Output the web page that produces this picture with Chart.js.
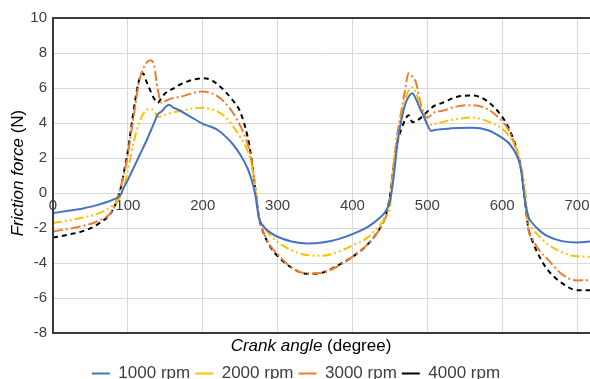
<!DOCTYPE html>
<html>
<head>
<meta charset="utf-8">
<script src="https://cdn.jsdelivr.net/npm/chart.js@4.4.1/dist/chart.umd.min.js"></script>
<style>
  html, body { margin: 0; padding: 0; background: #ffffff; overflow: hidden; }
  #wrap { width: 603px; height: 379px; position: relative; }
</style>
</head>
<body>
<div id="wrap"><canvas id="chart"></canvas></div>
<script>
// Crank angle samples (degree) shared by all speed series
const crankAngle = [0, 20, 40, 60, 80, 90, 95, 100, 105, 110, 115, 120, 125, 130, 135, 140, 145, 150, 155, 160,
  170, 180, 190, 200, 210, 220, 230, 240, 250, 260, 265, 270, 275, 280, 290, 300, 320, 340, 360, 380,
  400, 420, 430, 440, 445, 450, 455, 460, 465, 470, 475, 480, 485, 490, 495, 500, 505, 510, 520, 540,
  560, 580, 600, 610, 620, 625, 630, 635, 640, 650, 660, 680, 700, 720];

// Friction force (N) per engine speed
const rpm1000 = [-1.15, -1.02, -0.88, -0.68, -0.38, -0.12, 0.35, 0.75, 1.2, 1.65, 2.1, 2.55, 3.0, 3.5, 4.0, 4.5, 4.65, 4.9, 5.05, 4.9,
  4.7, 4.45, 4.2, 3.95, 3.8, 3.6, 3.25, 2.8, 2.2, 1.4, 0.8, -0.05, -1.4, -1.85, -2.25, -2.5, -2.78, -2.88, -2.83, -2.65,
  -2.35, -1.95, -1.65, -1.28, -1.0, -0.5, 0.9, 2.8, 4.1, 5.0, 5.5, 5.7, 5.35, 4.85, 4.4, 3.9, 3.55, 3.6, 3.65, 3.72,
  3.73, 3.6, 3.15, 2.8, 2.1, 1.4, -0.3, -1.35, -1.7, -2.15, -2.45, -2.75, -2.83, -2.76];

const rpm2000 = [-1.72, -1.58, -1.4, -1.18, -0.7, -0.2, 0.4, 1.3, 2.35, 3.3, 4.0, 4.5, 4.75, 4.8, 4.7, 4.35, 4.4, 4.48, 4.55, 4.6,
  4.68, 4.78, 4.85, 4.87, 4.8, 4.65, 4.35, 3.85, 3.2, 2.4, 1.65, 0.3, -1.4, -1.8, -2.4, -2.8, -3.3, -3.55, -3.58, -3.38,
  -3.0, -2.55, -2.15, -1.65, -1.35, -0.85, 1.7, 3.1, 4.3, 5.3, 5.85, 6.05, 5.7, 5.1, 4.5, 3.95, 3.88, 3.95, 4.05, 4.23,
  4.32, 4.1, 3.68, 3.2, 2.4, 1.6, 0.4, -1.6, -2.0, -2.5, -2.9, -3.38, -3.62, -3.64];

const rpm3000 = [-2.2, -2.05, -1.88, -1.6, -0.95, 0.3, 1.1, 2.2, 3.6, 5.0, 6.4, 7.05, 7.45, 7.58, 7.3, 5.9, 5.15, 5.25, 5.35, 5.42,
  5.5, 5.62, 5.74, 5.8, 5.72, 5.52, 5.15, 4.6, 3.85, 2.8, 1.9, 0.4, -1.3, -2.1, -3.0, -3.5, -4.3, -4.6, -4.55, -4.2,
  -3.65, -2.95, -2.45, -1.8, -1.3, -0.3, 1.6, 3.4, 4.6, 5.8, 6.85, 6.65, 6.3, 5.3, 4.6, 4.3, 4.45, 4.62, 4.7, 4.95,
  5.02, 4.8, 4.1, 3.5, 2.3, 1.4, -0.1, -2.1, -2.6, -3.3, -3.75, -4.65, -5.0, -4.97];

const rpm4000 = [-2.55, -2.38, -2.18, -1.78, -0.95, 0.2, 1.25, 2.4, 3.9, 5.35, 6.45, 6.85, 6.35, 5.85, 5.4, 5.15, 5.45, 5.7, 5.85, 5.95,
  6.2, 6.38, 6.5, 6.56, 6.48, 6.2, 5.8, 5.3, 4.65, 3.2, 2.0, 0.3, -1.35, -2.15, -3.05, -3.6, -4.3, -4.62, -4.55, -4.15,
  -3.65, -2.95, -2.45, -1.75, -1.2, -0.2, 1.5, 2.9, 3.6, 4.15, 4.45, 4.05, 4.1, 4.25, 4.45, 4.65, 4.85, 5.0, 5.15, 5.5,
  5.57, 5.25, 4.35, 3.6, 2.4, 1.4, -0.3, -2.0, -2.7, -3.65, -4.35, -5.15, -5.55, -5.55];

const seriesLabels = ['1000 rpm', '2000 rpm', '3000 rpm', '4000 rpm'];
const xTickValues = [0, 100, 200, 300, 400, 500, 600, 700];
const yTickValues = [-8, -6, -4, -2, 0, 2, 4, 6, 8, 10];

const FONT = '"Liberation Sans", Arial, sans-serif';
const TEXT_COLOR = '#404040';
const FRAME_COLOR = '#3a3a3a';

const pairs = ys => crankAngle.map((a, i) => ({ x: a, y: ys[i] }));

const styles = [
  { color: '#4472C4', dash: [] },
  { color: '#FFC000', dash: [9, 3, 2, 3, 2, 3] },
  { color: '#ED7D31', dash: [10, 3, 2, 3] },
  { color: '#000000', dash: [5, 4] }
];
const values = [rpm1000, rpm2000, rpm3000, rpm4000];

const datasets = values.map((v, i) => ({
  label: seriesLabels[i],
  data: pairs(v),
  borderColor: styles[i].color,
  backgroundColor: styles[i].color,
  borderDash: styles[i].dash,
  borderWidth: 2,
  pointRadius: 0,
  fill: false,
  cubicInterpolationMode: 'monotone'
}));

// Frame lines (top, left, bottom) and the mixed-style axis titles
const framePlugin = {
  id: 'frameAndTitles',
  afterDraw(chart) {
    const { ctx, chartArea: a } = chart;
    ctx.save();
    ctx.strokeStyle = FRAME_COLOR;
    ctx.lineWidth = 2;
    ctx.beginPath();
    ctx.moveTo(a.right + 2, a.top);
    ctx.lineTo(a.left, a.top);
    ctx.lineTo(a.left, a.bottom);
    ctx.lineTo(a.right + 2, a.bottom);
    ctx.stroke();

    ctx.fillStyle = '#000000';
    ctx.textBaseline = 'middle';
    const drawParts = (parts, cx, cy) => {
      let total = 0;
      parts.forEach(p => { ctx.font = p.font; p.w = ctx.measureText(p.text).width; total += p.w; });
      let x = cx - total / 2;
      parts.forEach(p => { ctx.font = p.font; ctx.textAlign = 'left'; ctx.fillText(p.text, x, cy); x += p.w; });
    };
    // x-axis title
    drawParts([
      { text: 'Crank angle', font: 'italic 17px ' + FONT },
      { text: ' (degree)', font: '17px ' + FONT }
    ], 311, 346);
    // y-axis title
    ctx.save();
    ctx.translate(18, 173);
    ctx.rotate(-Math.PI / 2);
    drawParts([
      { text: 'Friction force', font: 'italic 17px ' + FONT },
      { text: ' (N)', font: '17px ' + FONT }
    ], 0, 0);
    ctx.restore();
    ctx.restore();
  }
};

new Chart(document.getElementById('chart'), {
  type: 'line',
  data: { datasets },
  plugins: [framePlugin],
  options: {
    responsive: true,
    maintainAspectRatio: false,
    animation: false,
    layout: { padding: { top: 18, right: 11, left: 0, bottom: -13 } },
    plugins: {
      tooltip: { enabled: false },
      legend: {
        position: 'bottom',
        labels: {
          usePointStyle: true,
          pointStyle: 'line',
          pointStyleWidth: 18,
          boxHeight: 2,
          padding: 5,
          color: '#404040',
          font: { family: FONT, size: 17 }
        }
      }
    },
    scales: {
      x: {
        type: 'linear',
        min: 0,
        max: 720,
        position: { y: 0 },
        afterBuildTicks: s => { s.ticks = xTickValues.map(v => ({ value: v })); },
        grid: { color: '#d9d9d9', lineWidth: 1, drawTicks: false },
        border: { display: false },
        ticks: {
          color: TEXT_COLOR,
          font: { family: FONT, size: 15 },
          padding: 4,
          maxRotation: 0
        }
      },
      xTitle: {
        type: 'linear',
        position: 'bottom',
        min: 0,
        max: 720,
        grid: { display: false },
        border: { display: false },
        ticks: { display: false },
        afterFit: s => { s.height = 27; }
      },
      y: {
        type: 'linear',
        min: -8,
        max: 10,
        afterBuildTicks: s => { s.ticks = yTickValues.map(v => ({ value: v })); },
        afterFit: s => { s.width = 53; },
        grid: { color: '#d9d9d9', lineWidth: 1, drawTicks: false },
        border: { display: false },
        ticks: {
          color: TEXT_COLOR,
          font: { family: FONT, size: 15 },
          padding: 6
        }
      }
    }
  }
});
</script>
</body>
</html>
